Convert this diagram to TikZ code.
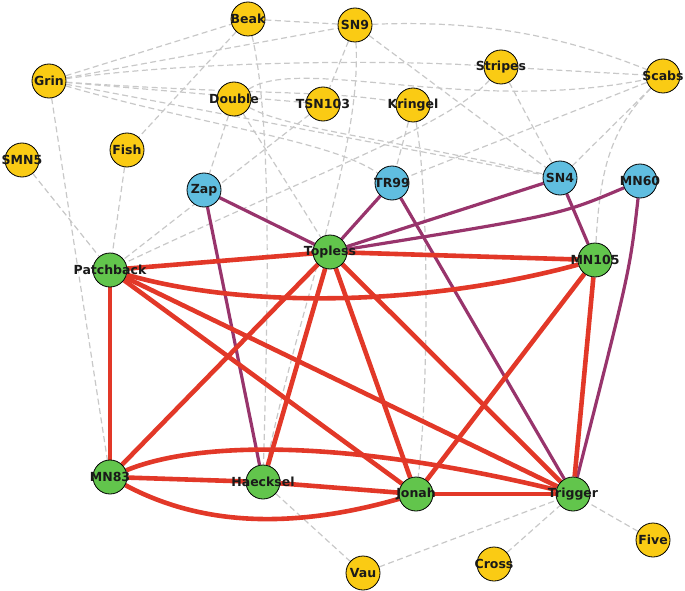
\documentclass[tikz,border=0pt]{standalone}
\usepackage{fontspec}
\setmainfont{DejaVu Sans}
\usetikzlibrary{backgrounds}
\definecolor{leaf}{RGB}{98,197,76}
\definecolor{gold}{RGB}{250,203,20}
\definecolor{sky}{RGB}{96,190,224}
\definecolor{redline}{RGB}{226,56,40}
\definecolor{plum}{RGB}{152,52,108}
\definecolor{greyline}{RGB}{200,200,200}
\definecolor{ink}{RGB}{26,26,26}

\begin{document}
\begin{tikzpicture}[x=1pt,y=-1pt,
  every label/.style={font=\fontsize{12.5}{12.5}\selectfont\bfseries,text=ink},
  dot/.style={circle,draw=black,line width=0.8pt,minimum size=34pt,inner sep=0pt},
  gnode/.style={dot,fill=leaf},
  ynode/.style={dot,fill=gold},
  bnode/.style={dot,fill=sky},
  strong/.style={draw=redline,line width=4.6pt},
  medium/.style={draw=plum,line width=3.2pt},
  weak/.style={draw=greyline,line width=1.2pt,dash pattern=on 6pt off 3.5pt}]
\useasboundingbox (0,0) rectangle (685,591);

% yellow
\node[ynode,label=center:Beak] (beak) at (248,19) {};
\node[ynode,label=center:SN9] (sn9) at (355,25) {};
\node[ynode,label=center:Grin] (grin) at (49,81) {};
\node[ynode,label=center:Stripes] (stripes) at (501,67) {};
\node[ynode,label=center:Scabs] (scabs) at (663,76) {};
\node[ynode,label=center:Double] (double) at (234,99) {};
\node[ynode,label=center:TSN103] (tsn103) at (323,104) {};
\node[ynode,label=center:Kringel] (kringel) at (413,105) {};
\node[ynode,label=center:Fish] (fish) at (127,150) {};
\node[ynode,label=center:SMN5] (smn5) at (22,160) {};
\node[ynode,label=center:Vau] (vau) at (363,573) {};
\node[ynode,label=center:Cross] (cross) at (494,564) {};
\node[ynode,label=center:Five] (five) at (653,540) {};
% blue
\node[bnode,label=center:Zap] (zap) at (204,190) {};
\node[bnode,label=center:TR99] (tr99) at (392,183) {};
\node[bnode,label=center:SN4] (sn4) at (560,178) {};
\node[bnode,label=center:MN60] (mn60) at (640,181) {};
% green
\node[gnode,label=center:Patchback] (patch) at (110,270) {};
\node[gnode,label=center:Topless] (top) at (330,252) {};
\node[gnode,label=center:MN105] (mn105) at (595,260) {};
\node[gnode,label=center:MN83] (mn83) at (110,477) {};
\node[gnode,label=center:Haecksel] (haeck) at (263,482) {};
\node[gnode,label=center:Jonah] (jonah) at (416,494) {};
\node[gnode,label=center:Trigger] (trig) at (573,494) {};

\begin{pgfonlayer}{background}
% grey
\draw[weak] (grin) -- (beak);
\draw[weak] (grin) -- (sn9);
\draw[weak] (grin) .. controls (200,60) and (400,60) .. (stripes);
\draw[weak] (grin) -- (tsn103);
\draw[weak] (grin) .. controls (250,95) and (330,90) .. (kringel);
\draw[weak] (grin) -- (sn4);
\draw[weak] (grin) .. controls (200,125) and (330,140) .. (tr99);
\draw[weak] (grin) -- (mn83);
\draw[weak] (beak) -- (sn9);
\draw[weak] (beak) -- (fish);
\draw[weak] (beak) .. controls (272,120) and (268,300) .. (haeck);
\draw[weak] (sn9) .. controls (480,20) and (560,35) .. (scabs);
\draw[weak] (sn9) -- (tsn103);
\draw[weak] (sn9) -- (sn4);
\draw[weak] (sn9) .. controls (362,150) and (300,300) .. (haeck);
\draw[weak] (double) -- (zap);
\draw[weak] (double) -- (top);
\draw[weak] (double) .. controls (300,55) and (470,115) .. (scabs);
\draw[weak] (double) .. controls (290,130) and (400,140) .. (sn4);
\draw[weak] (tsn103) -- (patch);
\draw[weak] (kringel) -- (tr99);
\draw[weak] (kringel) .. controls (430,200) and (428,400) .. (jonah);
\draw[weak] (stripes) -- (sn4);
\draw[weak] (stripes) -- (scabs);
\draw[weak] (stripes) .. controls (450,125) and (300,180) .. (patch);
\draw[weak] (scabs) -- (sn4);
\draw[weak] (scabs) -- (tr99);
\draw[weak] (scabs) .. controls (610,130) and (600,170) .. (mn105);
\draw[weak] (smn5) -- (patch);
\draw[weak] (fish) -- (patch);
\draw[weak] (haeck) -- (vau);
\draw[weak] (vau) -- (trig);
\draw[weak] (cross) -- (trig);
\draw[weak] (five) -- (trig);

% purple
\draw[medium] (zap) -- (top);
\draw[medium] (zap) -- (haeck);
\draw[medium] (tr99) -- (top);
\draw[medium] (tr99) -- (trig);
\draw[medium] (sn4) -- (top);
\draw[medium] (sn4) -- (mn105);
\draw[medium] (mn60) .. controls (560,215) .. (top);
\draw[medium] (mn60) .. controls (630,270) .. (trig);

% red
\draw[strong] (patch) -- (top);
\draw[strong] (patch) .. controls (250,310) and (430,305) .. (mn105);
\draw[strong] (patch) -- (mn83);
\draw[strong] (patch) -- (jonah);
\draw[strong] (patch) -- (trig);
\draw[strong] (top) -- (mn105);
\draw[strong] (top) -- (mn83);
\draw[strong] (top) -- (haeck);
\draw[strong] (top) -- (jonah);
\draw[strong] (top) -- (trig);
\draw[strong] (mn105) -- (jonah);
\draw[strong] (mn105) -- (trig);
\draw[strong] (mn83) -- (haeck);
\draw[strong] (mn83) .. controls (200,440) and (350,440) .. (trig);
\draw[strong] (mn83) .. controls (200,525) and (290,530) .. (jonah);
\draw[strong] (haeck) -- (jonah);
\draw[strong] (jonah) -- (trig);
\end{pgfonlayer}

\end{tikzpicture}
\end{document}
